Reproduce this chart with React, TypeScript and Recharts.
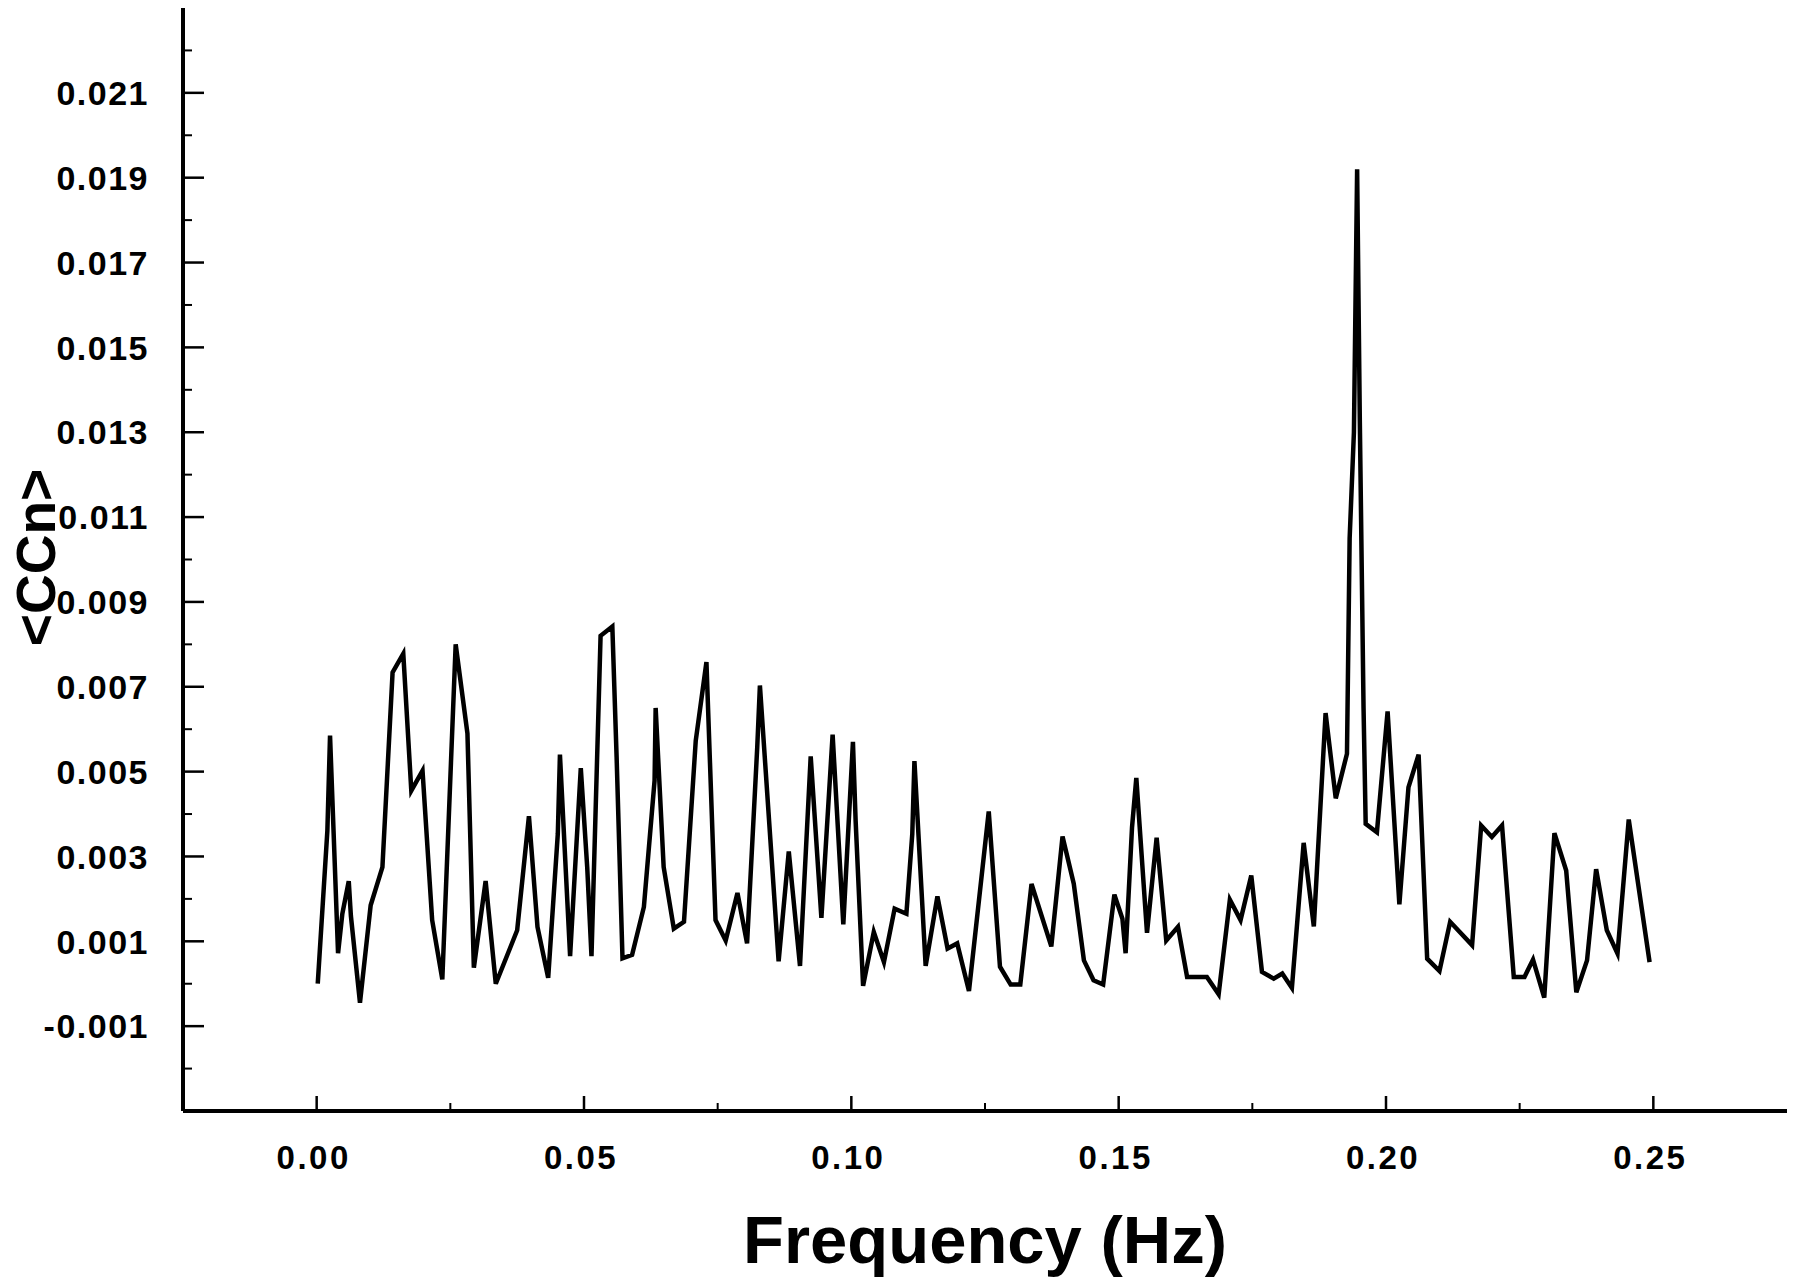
import React from 'react';
import { LineChart, Line, XAxis, YAxis, Label } from 'recharts';

// Frequencies (Hz) of the line's vertices
const freqs = [
  0.0002, 0.0020, 0.0025, 0.0040, 0.0048, 0.0060, 0.0064, 0.0081, 0.0101, 0.0123,
  0.0142, 0.0162, 0.0177, 0.0198, 0.0216, 0.0235, 0.0260, 0.0282, 0.0294, 0.0316,
  0.0335, 0.0375, 0.0397, 0.0413, 0.0433, 0.0451, 0.0455, 0.0474, 0.0494, 0.0506,
  0.0514, 0.0531, 0.0553, 0.0561, 0.0572, 0.0590, 0.0612, 0.0632, 0.0634, 0.0649,
  0.0668, 0.0687, 0.0709, 0.0729, 0.0746, 0.0765, 0.0787, 0.0805, 0.0824, 0.0829,
  0.0864, 0.0883, 0.0904, 0.0924, 0.0944, 0.0965, 0.0985, 0.1003, 0.1008, 0.1022,
  0.1042, 0.1061, 0.1081, 0.1103, 0.1114, 0.1118, 0.1139, 0.1161, 0.1180, 0.1198,
  0.1220, 0.1257, 0.1278, 0.1298, 0.1316, 0.1337, 0.1374, 0.1395, 0.1416, 0.1435,
  0.1453, 0.1471, 0.1492, 0.1507, 0.1513, 0.1525, 0.1533, 0.1553, 0.1571, 0.1589,
  0.1611, 0.1628, 0.1665, 0.1687, 0.1708, 0.1728, 0.1748, 0.1768, 0.1790, 0.1806,
  0.1824, 0.1846, 0.1865, 0.1887, 0.1906, 0.1927, 0.1932, 0.1940, 0.1946, 0.1951,
  0.1958, 0.1962, 0.1983, 0.2003, 0.2025, 0.2042, 0.2061, 0.2077, 0.2100, 0.2120,
  0.2161, 0.2178, 0.2198, 0.2217, 0.2239, 0.2259, 0.2275, 0.2296, 0.2315, 0.2337,
  0.2356, 0.2376, 0.2393, 0.2413, 0.2433, 0.2454, 0.2493,
];

// <CCn> values at those frequencies
const cValues = [
  0.0000, 0.00360, 0.00585, 0.00072, 0.00165, 0.00242, 0.00160, -0.00045, 0.00185, 0.00275,
  0.00734, 0.00778, 0.00455, 0.00502, 0.00150, 0.00010, 0.00800, 0.00590, 0.00038, 0.00242,
  0.00000, 0.00126, 0.00395, 0.00134, 0.00014, 0.00353, 0.00540, 0.00065, 0.00508, 0.00275,
  0.00065, 0.00820, 0.00842, 0.00534, 0.00060, 0.00068, 0.00181, 0.00479, 0.00650, 0.00275,
  0.00130, 0.00146, 0.00573, 0.00758, 0.00150, 0.00102, 0.00214, 0.00095, 0.00557, 0.00703,
  0.00053, 0.00312, 0.00042, 0.00536, 0.00155, 0.00587, 0.00140, 0.00570, 0.00385, -0.00005,
  0.00122, 0.00051, 0.00177, 0.00165, 0.00353, 0.00525, 0.00042, 0.00206, 0.00083, 0.00095,
  -0.00017, 0.00406, 0.00040, -0.00002, -0.00002, 0.00235, 0.00088, 0.00347, 0.00236, 0.00055,
  0.00008, -0.00002, 0.00210, 0.00153, 0.00072, 0.00369, 0.00485, 0.00120, 0.00344, 0.00102,
  0.00134, 0.00016, 0.00016, -0.00025, 0.00198, 0.00150, 0.00255, 0.00028, 0.00012, 0.00024,
  -0.00010, 0.00332, 0.00135, 0.00638, 0.00437, 0.00542, 0.01050, 0.01300, 0.01920, 0.01330,
  0.00650, 0.00377, 0.00357, 0.00642, 0.00187, 0.00463, 0.00540, 0.00059, 0.00030, 0.00146,
  0.00091, 0.00373, 0.00346, 0.00373, 0.00016, 0.00016, 0.00057, -0.00033, 0.00355, 0.00267,
  -0.00020, 0.00055, 0.00270, 0.00126, 0.00071, 0.00387, 0.00051,
];

const xTicks = [0, 0.025, 0.05, 0.075, 0.1, 0.125, 0.15, 0.175, 0.2, 0.225, 0.25];
const yTicks = [
  -0.002, -0.001, 0, 0.001, 0.002, 0.003, 0.004, 0.005, 0.006, 0.007, 0.008, 0.009,
  0.01, 0.011, 0.012, 0.013, 0.014, 0.015, 0.016, 0.017, 0.018, 0.019, 0.02, 0.021, 0.022,
];

const data = freqs.map((f, i) => ({ f, v: cValues[i] }));

const FONT = "'Liberation Sans', Arial, Helvetica, sans-serif";

const XTick = (props: any) => {
  const { x, y, payload } = props;
  const k = Math.round(payload.value * 1000);
  const major = k % 50 === 0;
  return (
    <g>
      <line x1={x} y1={y} x2={x} y2={y - (major ? 15 : 8)} stroke="#000" strokeWidth={major ? 2.5 : 2} />
      {major && (
        <text
          x={x - 3}
          y={y + 58}
          textAnchor="middle"
          fontFamily={FONT}
          fontWeight="bold"
          fontSize={33}
          letterSpacing={2.5}
          fill="#000"
        >
          {payload.value.toFixed(2)}
        </text>
      )}
    </g>
  );
};

const YTick = (props: any) => {
  const { x, y, payload } = props;
  const k = Math.round(payload.value * 1000);
  const major = Math.abs(k) % 2 === 1;
  return (
    <g>
      <line x1={x} y1={y} x2={x + (major ? 21 : 9)} y2={y} stroke="#000" strokeWidth={major ? 2.5 : 2} />
      {major && (
        <text
          x={x - 34}
          y={y}
          dy="0.36em"
          textAnchor="end"
          fontFamily={FONT}
          fontWeight="bold"
          fontSize={34}
          letterSpacing={1.5}
          fill="#000"
        >
          {payload.value.toFixed(3)}
        </text>
      )}
    </g>
  );
};

export default function App() {
  return (
    <div style={{ position: 'absolute', left: 0, top: 0, width: 1800, height: 1287, background: '#fff' }}>
      <LineChart
        width={1800}
        height={1287}
        data={data}
        margin={{ top: 8, right: 13, bottom: 0, left: 0 }}
      >
        <XAxis
          dataKey="f"
          type="number"
          domain={[-0.025, 0.275]}
          ticks={xTicks}
          interval={0}
          height={176}
          tickSize={0}
          tickMargin={0}
          tickLine={false}
          tick={<XTick />}
          axisLine={{ stroke: '#000', strokeWidth: 4 }}
          allowDataOverflow
        >
          <Label
            content={(p: any) => {
              const vb = p.viewBox;
              return (
                <text
                  x={vb.x + vb.width / 2}
                  y={vb.y + 152}
                  textAnchor="middle"
                  fontFamily={FONT}
                  fontWeight="bold"
                  fontSize={67}
                  fill="#000"
                >
                  Frequency (Hz)
                </text>
              );
            }}
          />
        </XAxis>
        <YAxis
          type="number"
          domain={[-0.003, 0.023]}
          ticks={yTicks}
          interval={0}
          width={183}
          tickSize={0}
          tickMargin={0}
          tickLine={false}
          tick={<YTick />}
          axisLine={{ stroke: '#000', strokeWidth: 4 }}
          allowDataOverflow
        >
          <Label
            content={(p: any) => {
              const vb = p.viewBox;
              const cx = 55;
              const cy = vb.y + vb.height / 2 - 2;
              return (
                <text
                  transform={`translate(${cx},${cy}) rotate(-90)`}
                  textAnchor="middle"
                  fontFamily={FONT}
                  fontWeight="bold"
                  fontSize={55}
                  fill="#000"
                >
                  {'<CCn>'}
                </text>
              );
            }}
          />
        </YAxis>
        <Line
          type="linear"
          dataKey="v"
          stroke="#000"
          strokeWidth={4.5}
          dot={false}
          activeDot={false}
          isAnimationActive={false}
        />
      </LineChart>
    </div>
  );
}
